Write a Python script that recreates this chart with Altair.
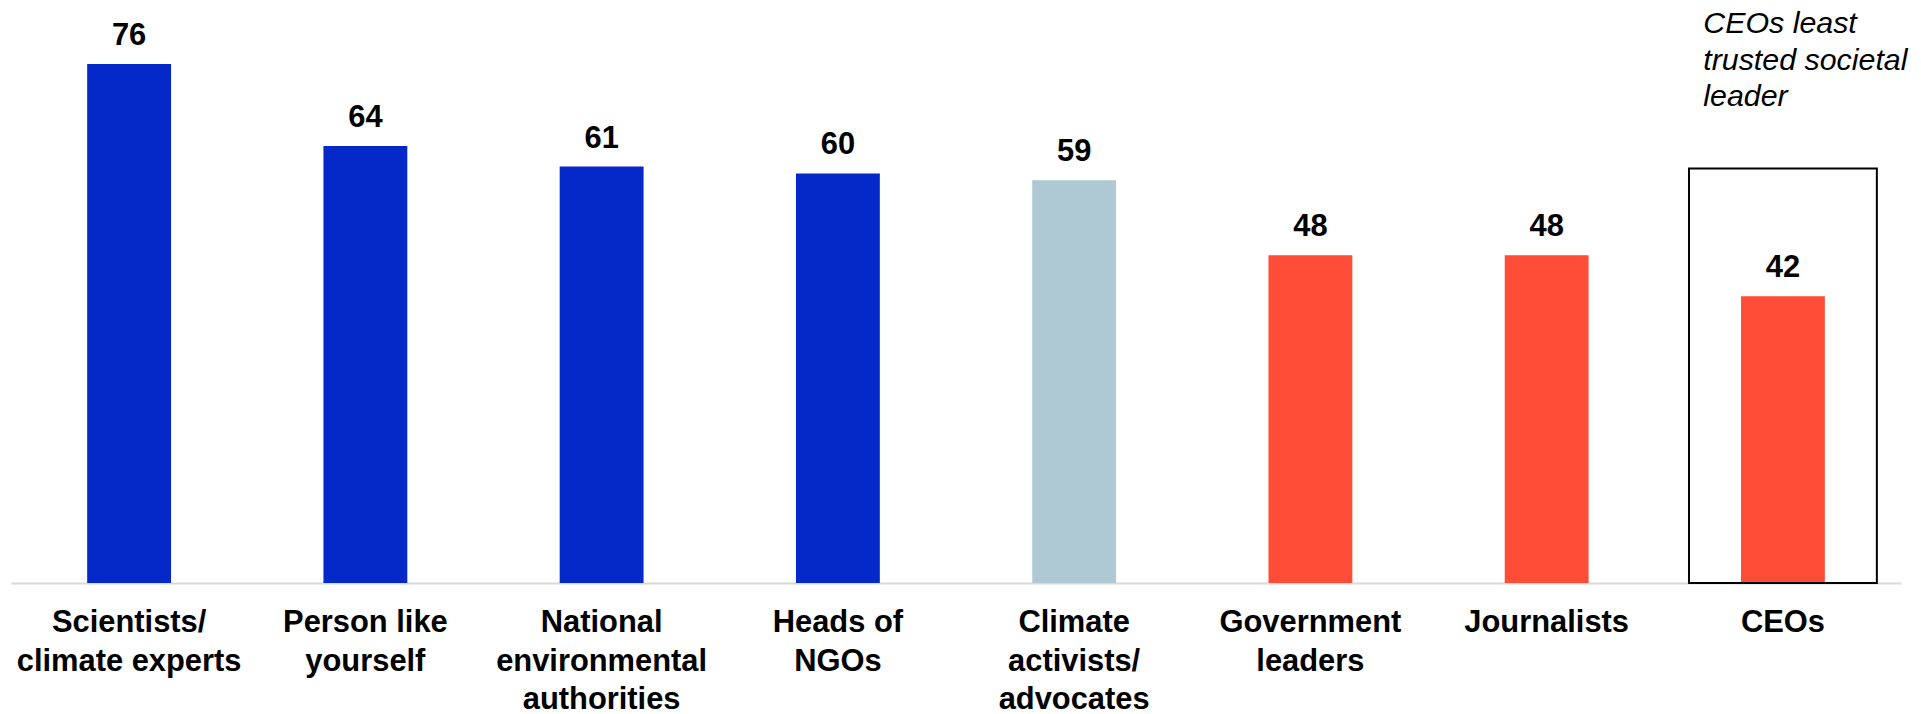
import altair as alt
import pandas as pd

categories = [
    "Scientists/|climate experts",
    "Person like|yourself",
    "National|environmental|authorities",
    "Heads of|NGOs",
    "Climate|activists/|advocates",
    "Government|leaders",
    "Journalists",
    "CEOs",
]
values = [76, 64, 61, 60, 59, 48, 48, 42]
groups = ["high", "high", "high", "high", "mid", "low", "low", "low"]
group_names = ["high", "mid", "low"]
group_colors = ["#0528C8", "#AEC9D3", "#FF4D38"]

box_category = ["CEOs"]
box_top = [60.7]
note_category = ["CEOs"]
note_value = [80.6]
note_text = ["CEOs least|trusted societal|leader"]

df = pd.DataFrame({"cat": categories, "value": values, "group": groups})
box_df = pd.DataFrame({"cat": box_category, "top": box_top, "bottom": [0] * len(box_top)})
note_df = pd.DataFrame({"cat": note_category, "v": note_value, "raw": note_text})

FONT = "Liberation Sans"

x = alt.X(
    "cat:N",
    scale=alt.Scale(domain=categories, paddingInner=0.645, paddingOuter=0.3225),
    axis=alt.Axis(
        title=None,
        ticks=False,
        labelAngle=0,
        labelExpr="split(datum.value, '|')",
        labelFont=FONT,
        labelFontSize=31,
        labelFontWeight="bold",
        labelColor="#000000",
        labelLineHeight=38.5,
        labelPadding=25,
        labelBaseline="top",
        domainColor="#D9D9D9",
        domainWidth=2,
        labelOverlap=False,
        labelLimit=400,
    ),
)
y_scale = alt.Scale(domain=[0, 84], nice=False, zero=True)

bars = alt.Chart(df).mark_bar().encode(
    x=x,
    y=alt.Y("value:Q", scale=y_scale, axis=None),
    color=alt.Color(
        "group:N",
        scale=alt.Scale(domain=group_names, range=group_colors),
        legend=None,
    ),
)

labels = alt.Chart(df).mark_text(
    font=FONT, fontSize=31, fontWeight="bold", color="#000000",
    baseline="alphabetic", dy=-19,
).encode(
    x=x,
    y=alt.Y("value:Q", scale=y_scale, axis=None),
    text=alt.Text("value:Q"),
)

box = alt.Chart(box_df).mark_bar(
    fillOpacity=0, stroke="#000000", strokeWidth=2,
    width=alt.RelativeBandSize(2.24),
).encode(
    x=x,
    y=alt.Y("top:Q", scale=y_scale, axis=None),
    y2="bottom:Q",
)

note = alt.Chart(note_df).transform_calculate(
    t="split(datum.raw, '|')"
).mark_text(
    font=FONT, fontSize=30.5, fontStyle="italic", color="#000000",
    align="left", baseline="alphabetic", lineHeight=37, dx=-80,
).encode(
    x=x,
    y=alt.Y("v:Q", scale=y_scale, axis=None),
    text="t:N",
)

chart = (
    alt.layer(bars, box, labels, note)
    .properties(
        width=1898,
        height=576,
        padding={"left": 3, "top": 0, "right": 12, "bottom": 140},
        autosize=alt.AutoSizeParams(type="none"),
    )
    .configure_view(strokeWidth=0)
)

chart.save("out.html", embed_options={"renderer": "svg", "actions": False})
